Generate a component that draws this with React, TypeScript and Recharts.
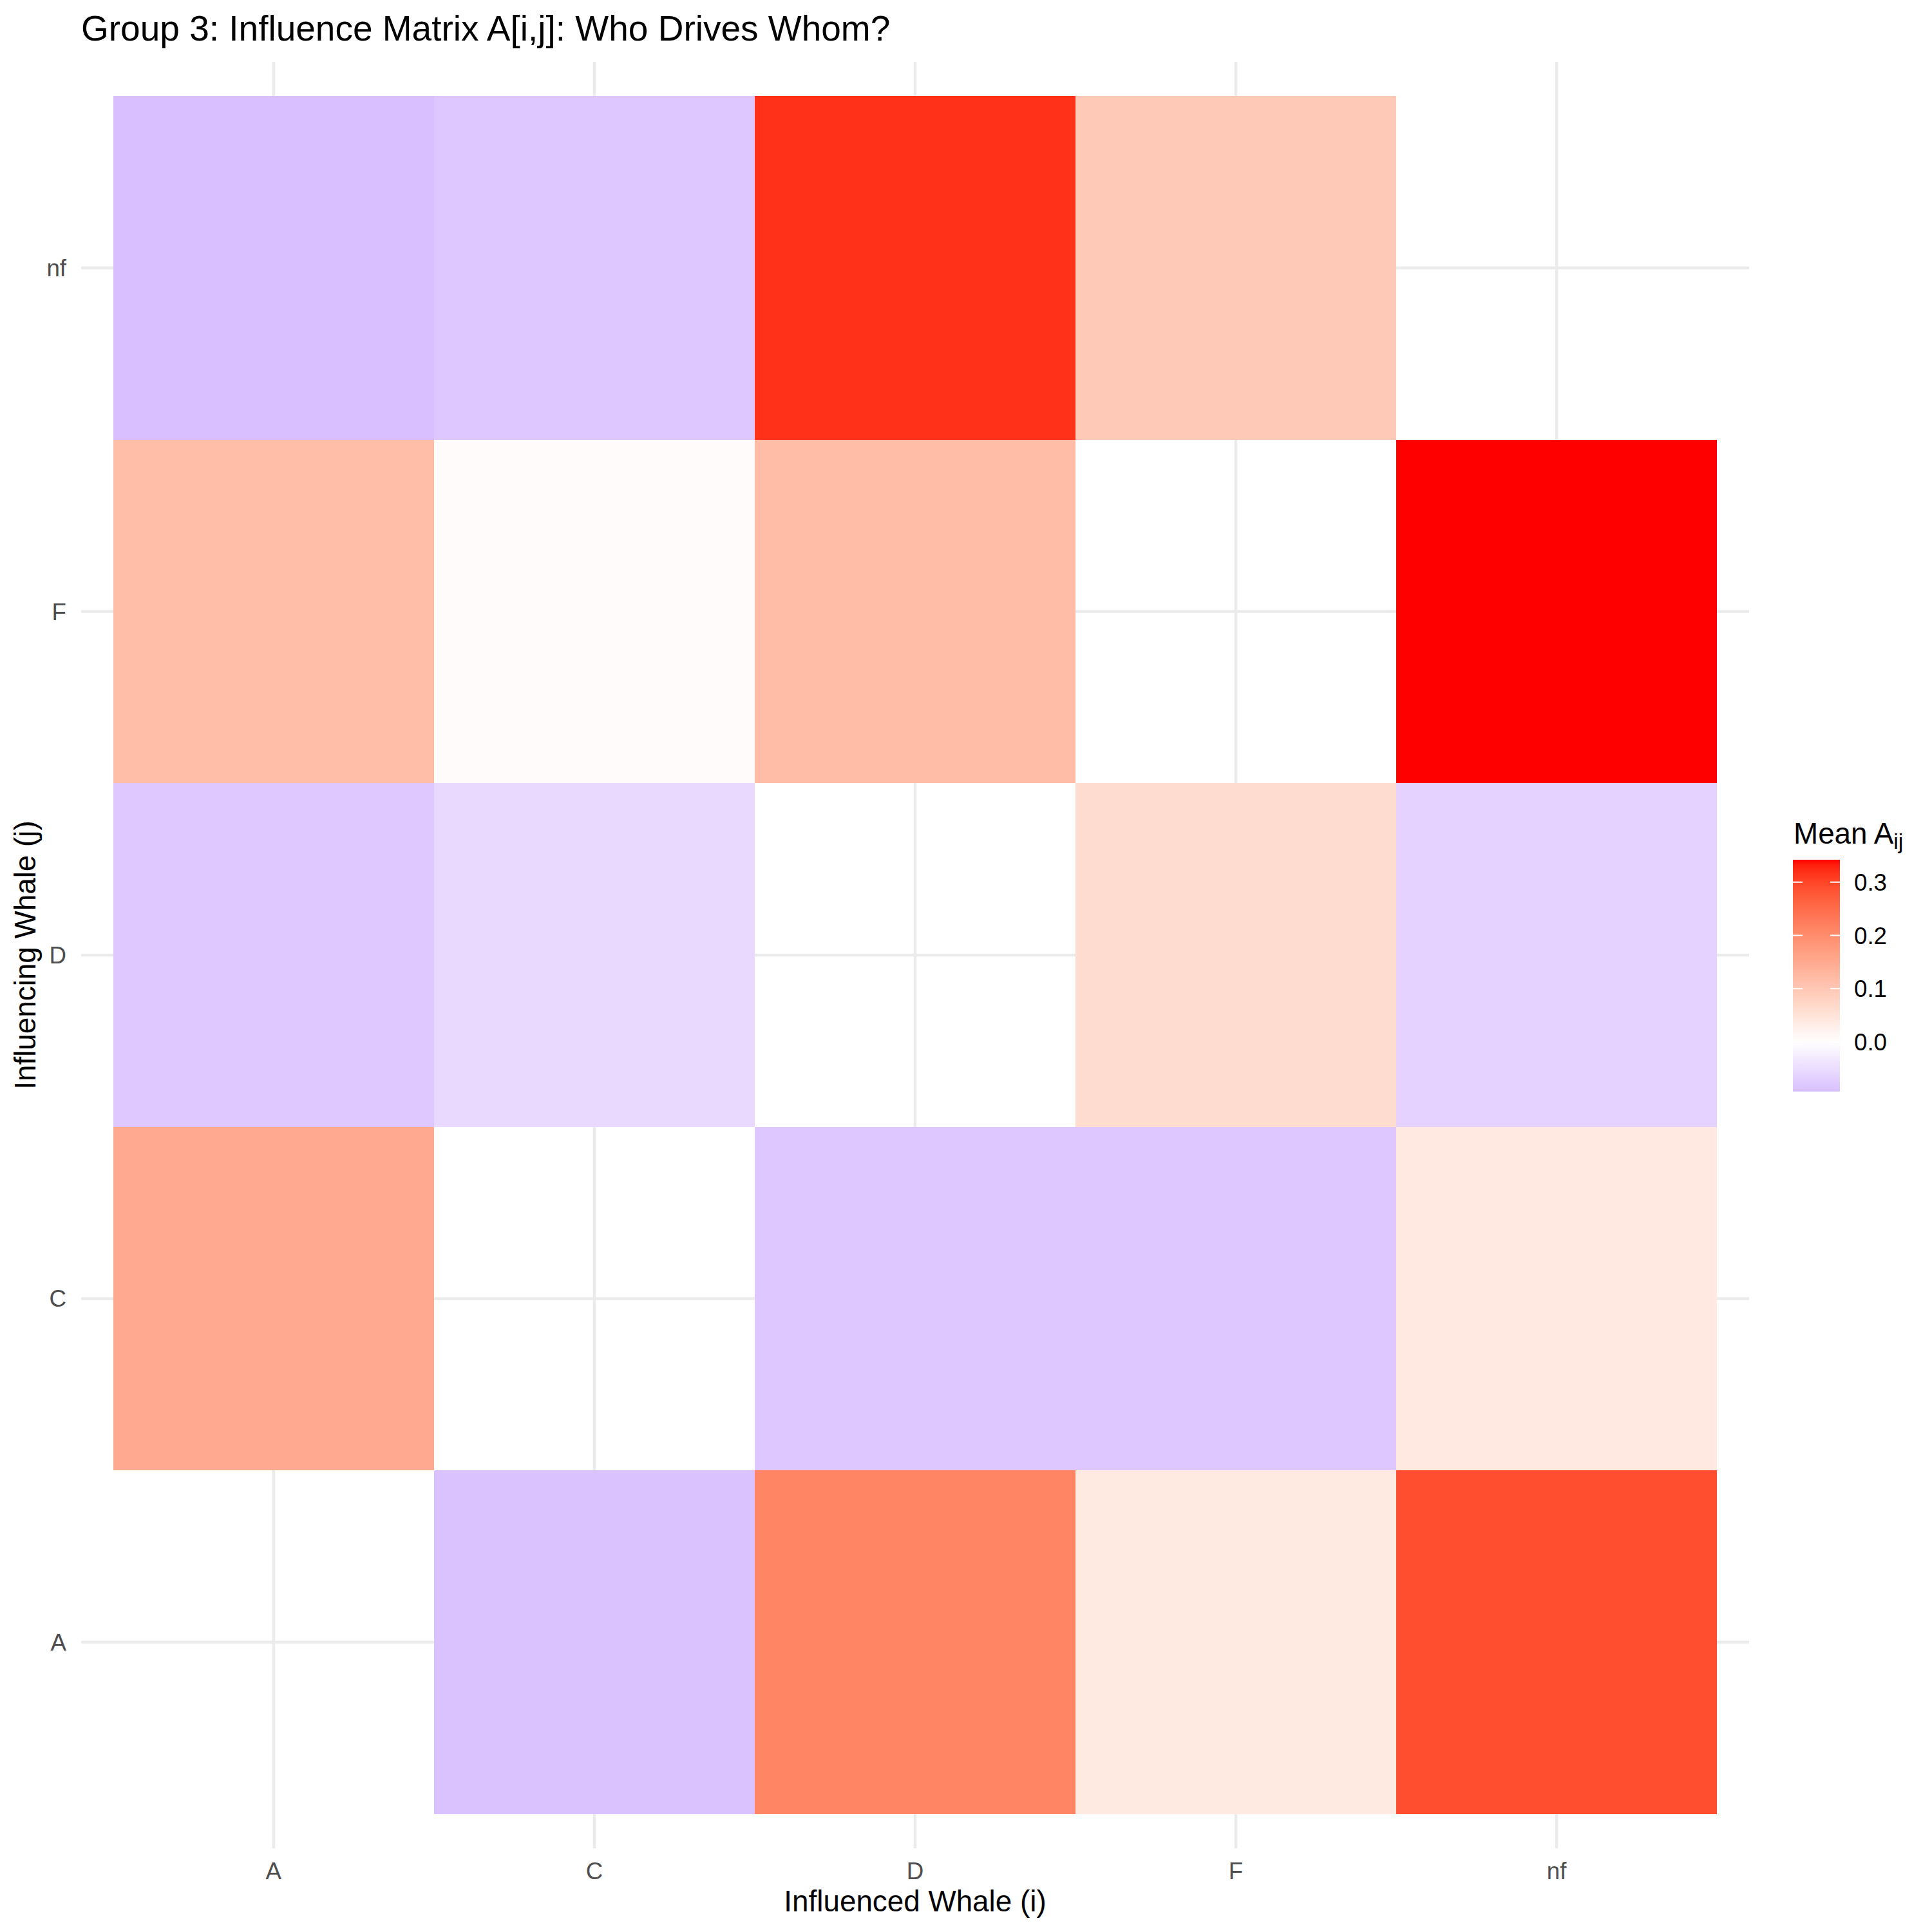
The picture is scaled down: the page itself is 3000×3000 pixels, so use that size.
import React from 'react';
import { ScatterChart, Scatter, XAxis, YAxis, CartesianGrid } from 'recharts';

// Influenced whale (i) on x, influencing whale (j) on y
const whales = ['A', 'C', 'D', 'F', 'nf'];
const tickPos = [1, 2, 3, 4, 5];
// Values A[i,j] for each influencing whale j, over influenced whales i (A, C, D, F, nf)
const fromA: (number | null)[] = [null, -0.09, 0.212, 0.038, 0.29];
const fromC: (number | null)[] = [0.15, null, -0.082, -0.082, 0.04];
const fromD: (number | null)[] = [-0.08, -0.055, null, 0.062, -0.065];
const fromF: (number | null)[] = [0.116, 0.007, 0.118, null, 0.342];
const fromNf: (number | null)[] = [-0.093, -0.082, 0.318, 0.096, null];
const legendTicks = [0, 0.1, 0.2, 0.3];

const titleText = 'Group 3: Influence Matrix A[i,j]: Who Drives Whom?';
const xTitle = 'Influenced Whale (i)';
const yTitle = 'Influencing Whale (j)';

const rows = [fromA, fromC, fromD, fromF, fromNf];
const cells: { x: number; y: number; v: number }[] = [];
rows.forEach((row, j) => {
  row.forEach((v, i) => {
    if (v !== null) cells.push({ x: i + 1, y: j + 1, v });
  });
});
const allVals = cells.map((c) => c.v);
const vMin = Math.min(...allVals);
const vMax = Math.max(...allVals);
const vAbs = Math.max(Math.abs(vMin), Math.abs(vMax));

// ---- Lab colour interpolation (like ggplot2 scale_fill_gradient2) ----
function srgbToLin(c: number) {
  c /= 255;
  return c <= 0.04045 ? c / 12.92 : Math.pow((c + 0.055) / 1.055, 2.4);
}
function linToSrgb(c: number) {
  c = Math.max(0, Math.min(1, c));
  const v = c <= 0.0031308 ? 12.92 * c : 1.055 * Math.pow(c, 1 / 2.4) - 0.055;
  return Math.round(v * 255);
}
const Xn = 0.95047, Yn = 1.0, Zn = 1.08883;
function fLab(t: number) {
  return t > 216 / 24389 ? Math.cbrt(t) : (24389 / 27 * t + 16) / 116;
}
function fInv(t: number) {
  const t3 = t * t * t;
  return t3 > 216 / 24389 ? t3 : (116 * t - 16) / (24389 / 27);
}
function rgbToLab([r, g, b]: number[]) {
  const R = srgbToLin(r), G = srgbToLin(g), B = srgbToLin(b);
  const X = 0.4124 * R + 0.3576 * G + 0.1805 * B;
  const Y = 0.2126 * R + 0.7152 * G + 0.0722 * B;
  const Z = 0.0193 * R + 0.1192 * G + 0.9505 * B;
  const fx = fLab(X / Xn), fy = fLab(Y / Yn), fz = fLab(Z / Zn);
  return [116 * fy - 16, 500 * (fx - fy), 200 * (fy - fz)];
}
function labToRgb([L, a, b]: number[]) {
  const fy = (L + 16) / 116;
  const fx = fy + a / 500;
  const fz = fy - b / 200;
  const X = Xn * fInv(fx), Y = Yn * fInv(fy), Z = Zn * fInv(fz);
  const R = 3.2406 * X - 1.5372 * Y - 0.4986 * Z;
  const G = -0.9689 * X + 1.8758 * Y + 0.0415 * Z;
  const B = 0.0557 * X - 0.204 * Y + 1.057 * Z;
  return `rgb(${linToSrgb(R)},${linToSrgb(G)},${linToSrgb(B)})`;
}
const LOW = rgbToLab([0, 0, 255]);
const MID = rgbToLab([255, 255, 255]);
const HIGH = rgbToLab([255, 0, 0]);
function colorFor(v: number) {
  const f = Math.min(1, Math.abs(v) / vAbs);
  const end = v >= 0 ? HIGH : LOW;
  return labToRgb([0, 1, 2].map((k) => MID[k] + (end[k] - MID[k]) * f));
}

// ---- layout ----
const W = 3000, H = 3000;
const M = { top: 96, right: 284, bottom: 0, left: 0 };
const YW = 126, XH = 130;
const PW = W - M.left - M.right - YW;
const PH = H - M.top - M.bottom - XH;
const tileW = PW / 5.2;
const tileH = PH / 5.2;
const FONT = '"Liberation Sans", Arial, Helvetica, sans-serif';

const Tile = (props: any) => {
  const { cx, cy, payload } = props;
  if (cx == null || cy == null) return null;
  return (
    <rect
      x={cx - tileW / 2}
      y={cy - tileH / 2}
      width={tileW}
      height={tileH}
      fill={colorFor(payload.v)}
      shapeRendering="crispEdges"
    />
  );
};

const vGen = (p: any) => {
  const s = p?.xAxis?.scale;
  if (s && typeof s === 'function') return tickPos.map((t) => s(t));
  if (s && typeof s.map === 'function') return tickPos.map((t) => s.map(t));
  return tickPos.map((t) => M.left + YW + ((t - 0.4) / 5.2) * PW);
};
const hGen = (p: any) => {
  const s = p?.yAxis?.scale;
  if (s && typeof s === 'function') return tickPos.map((t) => s(t));
  if (s && typeof s.map === 'function') return tickPos.map((t) => s.map(t));
  return tickPos.map((t) => M.top + ((5.6 - t) / 5.2) * PH);
};

// legend geometry
const LG = { x: 2784, y: 1335, w: 73, h: 360 };
const legendY = (v: number) => LG.y + ((vMax - v) / (vMax - vMin)) * LG.h;
const gradStops = Array.from({ length: 41 }, (_, k) => {
  const v = vMax - ((vMax - vMin) * k) / 40;
  return { off: k / 40, col: colorFor(v) };
});

export default function App() {
  return (
    <div style={{ position: 'absolute', left: 0, top: 0, width: W, height: H, background: '#fff', fontFamily: FONT }}>
      <ScatterChart width={W} height={H} margin={M}>
        <CartesianGrid
          stroke="#EBEBEB"
          strokeWidth={4.5}
          verticalCoordinatesGenerator={vGen}
          horizontalCoordinatesGenerator={hGen}
        />
        <XAxis
          type="number"
          dataKey="x"
          domain={[0.4, 5.6]}
          ticks={tickPos}
          allowDataOverflow
          tickFormatter={(i: number) => whales[i - 1]}
          height={XH}
          axisLine={false}
          tickLine={false}
          tickSize={0}
          tickMargin={22}
          tick={{ fontSize: 36.7, fill: '#4D4D4D', fontFamily: FONT }}
          interval={0}
        />
        <YAxis
          type="number"
          dataKey="y"
          domain={[0.4, 5.6]}
          ticks={tickPos}
          allowDataOverflow
          tickFormatter={(i: number) => whales[i - 1]}
          width={YW}
          axisLine={false}
          tickLine={false}
          tickSize={0}
          tickMargin={23}
          tick={{ fontSize: 36.7, fill: '#4D4D4D', fontFamily: FONT }}
          interval={0}
        />
        <Scatter data={cells} shape={Tile} isAnimationActive={false} />
      </ScatterChart>
      <svg width={W} height={H} style={{ position: 'absolute', left: 0, top: 0, pointerEvents: 'none' }}>
        <text x={126} y={63} fontSize={55} fill="#000" fontFamily={FONT}>{titleText}</text>
        <text x={M.left + YW + PW / 2} y={2968} fontSize={45.8} fill="#000" textAnchor="middle" fontFamily={FONT}>{xTitle}</text>
        <text
          x={55}
          y={M.top + PH / 2}
          fontSize={45.8}
          fill="#000"
          textAnchor="middle"
          fontFamily={FONT}
          transform={`rotate(-90, 55, ${M.top + PH / 2})`}
        >
          {yTitle}
        </text>
        <defs>
          <linearGradient id="lg" x1="0" y1="0" x2="0" y2="1">
            {gradStops.map((s, k) => (
              <stop key={k} offset={s.off} stopColor={s.col} />
            ))}
          </linearGradient>
        </defs>
        <text x={2785} y={1310} fontSize={45.8} fill="#000" fontFamily={FONT}>
          Mean A<tspan fontSize={34} dy={8}>ij</tspan>
        </text>
        <rect x={LG.x} y={LG.y} width={LG.w} height={LG.h} fill="url(#lg)" />
        {legendTicks.map((t) => (
          <g key={t}>
            <line x1={LG.x} x2={LG.x + 15} y1={legendY(t)} y2={legendY(t)} stroke="#fff" strokeWidth={2} />
            <line x1={LG.x + LG.w - 15} x2={LG.x + LG.w} y1={legendY(t)} y2={legendY(t)} stroke="#fff" strokeWidth={2} />
            <text x={2879} y={legendY(t)} dy="0.36em" fontSize={36.7} fill="#000" fontFamily={FONT}>
              {t.toFixed(1)}
            </text>
          </g>
        ))}
      </svg>
    </div>
  );
}
